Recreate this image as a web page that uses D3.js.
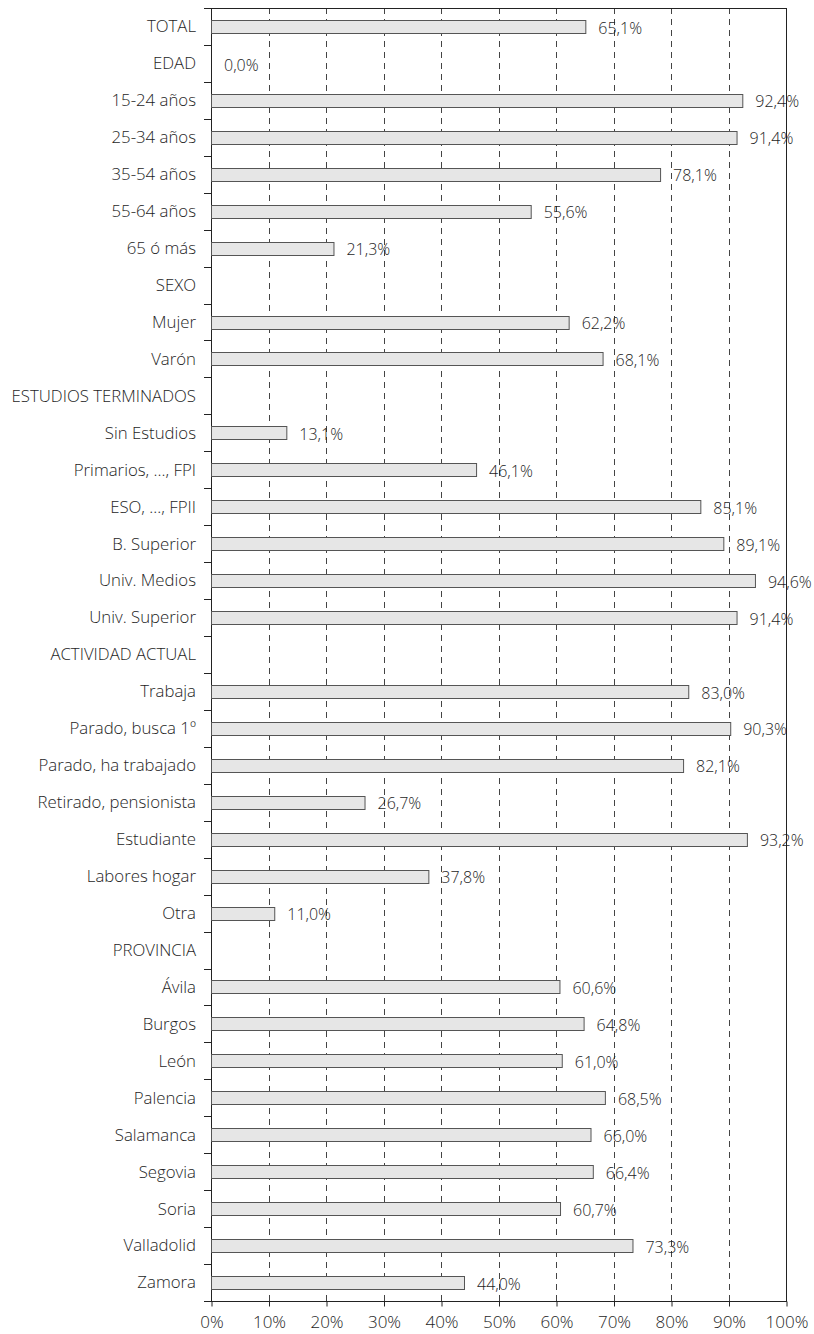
<!DOCTYPE html>
<html>
<head>
<meta charset="utf-8">
<script src="https://cdn.jsdelivr.net/npm/d3@7"></script>
<style>
  body { margin: 0; background: #fff; }
  text { font-family: "Open Sans", sans-serif; font-weight: 300; fill: #1e1e1e; }
</style>
</head>
<body>
<div id="chart"></div>
<script>
// Categories, top to bottom
const categories = [
  'TOTAL', 'EDAD', '15-24 años', '25-34 años', '35-54 años', '55-64 años', '65 ó más',
  'SEXO', 'Mujer', 'Varón',
  'ESTUDIOS TERMINADOS', 'Sin Estudios', 'Primarios, ..., FPI', 'ESO, ..., FPII',
  'B. Superior', 'Univ. Medios', 'Univ. Superior',
  'ACTIVIDAD ACTUAL', 'Trabaja', 'Parado, busca 1º', 'Parado, ha trabajado',
  'Retirado, pensionista', 'Estudiante', 'Labores hogar', 'Otra',
  'PROVINCIA', 'Ávila', 'Burgos', 'León', 'Palencia', 'Salamanca', 'Segovia',
  'Soria', 'Valladolid', 'Zamora'
];

// Percentages (null = header row without value)
const values = [
  65.1, 0.0, 92.4, 91.4, 78.1, 55.6, 21.3,
  null, 62.2, 68.1,
  null, 13.1, 46.1, 85.1, 89.1, 94.6, 91.4,
  null, 83.0, 90.3, 82.1, 26.7, 93.2, 37.8, 11.0,
  null, 60.6, 64.8, 61.0, 68.5, 66.0, 66.4, 60.7, 73.3, 44.0
];

const xTicks = [0, 10, 20, 30, 40, 50, 60, 70, 80, 90, 100];

const data = categories.map((c, i) => ({ name: c, value: values[i] }));

const W = 814, H = 1334;
const margin = { top: 8, right: 28, bottom: 33, left: 211 };
const width = W - margin.left - margin.right;
const height = H - margin.top - margin.bottom;

const svg = d3.select('#chart')
  .append('svg')
  .attr('width', W)
  .attr('height', H)
  .append('g')
  .attr('transform', `translate(${margin.left},${margin.top})`);

const x = d3.scaleLinear().domain([0, 100]).range([0, width]);
const y = d3.scaleBand().domain(categories).range([0, height]).paddingInner(0).paddingOuter(0);
const barH = 13;

// Dashed grid lines
svg.selectAll('line.grid')
  .data(xTicks.filter(t => t > 0 && t < 100))
  .enter()
  .append('line')
  .attr('class', 'grid')
  .attr('x1', d => Math.round(x(d)) + 0.5)
  .attr('x2', d => Math.round(x(d)) + 0.5)
  .attr('y1', 0)
  .attr('y2', height)
  .attr('stroke', '#444')
  .attr('stroke-width', 1)
  .attr('stroke-dasharray', '6,5');

// Frame
svg.append('rect')
  .attr('x', 0.5)
  .attr('y', 0.5)
  .attr('width', width)
  .attr('height', height)
  .attr('fill', 'none')
  .attr('stroke', '#222')
  .attr('stroke-width', 1);

// Bars
const rows = data.filter(d => d.value !== null);
svg.selectAll('rect.bar')
  .data(rows)
  .enter()
  .append('rect')
  .attr('class', 'bar')
  .attr('x', 0.5)
  .attr('y', d => Math.round(y(d.name) + y.bandwidth() / 2 - barH / 2) + 0.5)
  .attr('width', d => Math.max(0, x(d.value)))
  .attr('height', barH)
  .attr('fill', '#e6e6e6')
  .attr('stroke', d => d.value > 0 ? '#555' : 'none')
  .attr('stroke-width', 1);

// Value labels
svg.selectAll('text.val')
  .data(rows)
  .enter()
  .append('text')
  .attr('class', 'val')
  .attr('x', d => x(d.value) + 13)
  .attr('y', d => y(d.name) + y.bandwidth() / 2 + 1.5)
  .attr('dy', '0.35em')
  .style('font-size', '16px')
  .text(d => d3.format('.1f')(d.value).replace('.', ',') + '%');

// Y axis (labels + ticks between rows)
const yAxis = svg.append('g');
yAxis.selectAll('line.ytick')
  .data(d3.range(categories.length + 1))
  .enter()
  .append('line')
  .attr('x1', -7)
  .attr('x2', 0)
  .attr('y1', i => Math.round(i * y.step()) + 0.5)
  .attr('y2', i => Math.round(i * y.step()) + 0.5)
  .attr('stroke', '#222');

yAxis.selectAll('text.cat')
  .data(categories)
  .enter()
  .append('text')
  .attr('x', -15)
  .attr('y', d => y(d) + y.bandwidth() / 2)
  .attr('dy', '0.35em')
  .attr('text-anchor', 'end')
  .style('font-size', '16.8px')
  .text(d => d);

// X axis
const xAxis = svg.append('g')
  .attr('transform', `translate(0.5,${height + 0.5})`)
  .call(d3.axisBottom(x).tickValues(xTicks).tickSize(5).tickPadding(9).tickFormat(d => d + '%'));
xAxis.select('.domain').remove();
xAxis.selectAll('line').attr('stroke', '#222');
xAxis.selectAll('text')
  .style('font-family', '"Open Sans", sans-serif')
  .style('font-weight', '300')
  .style('font-size', '17px')
  .attr('fill', '#1e1e1e');
</script>
</body>
</html>
